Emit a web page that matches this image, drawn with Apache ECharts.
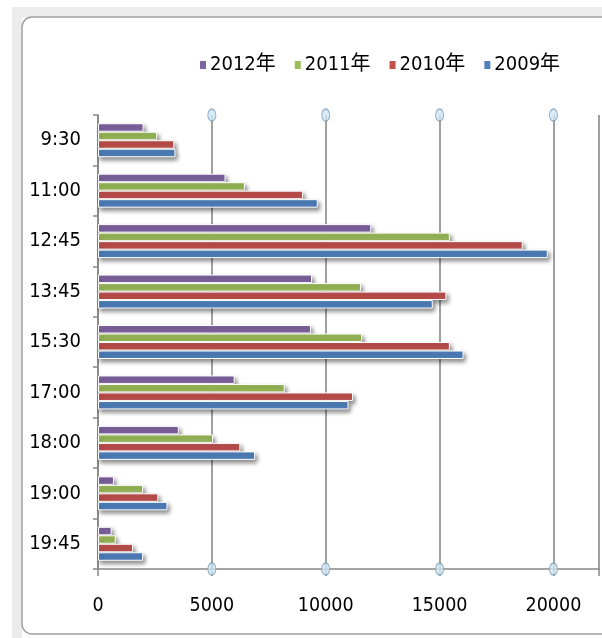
<!DOCTYPE html>
<html>
<head>
<meta charset="utf-8">
<script src="https://cdn.jsdelivr.net/npm/echarts@6/dist/echarts.min.js"></script>
<style>
html,body{margin:0;padding:0;background:#fff;}
#c{width:602px;height:638px;}
</style>
</head>
<body>
<div id="c"></div>
<script>
var categories = ['9:30','11:00','12:45','13:45','15:30','17:00','18:00','19:00','19:45'];
var seriesNames = ['2012年','2011年','2010年','2009年'];
var v2012 = [2000, 5600, 12000, 9400, 9350, 6000, 3550, 700, 600];
var v2011 = [2600, 6450, 15450, 11550, 11600, 8200, 5050, 1980, 780];
var v2010 = [3350, 9000, 18650, 15300, 15450, 11200, 6250, 2650, 1540];
var v2009 = [3400, 9650, 19750, 14700, 16050, 11000, 6900, 3050, 1980];
var gridTicks = [5000, 10000, 15000, 20000];
var xTickLabels = ['0','5000','10000','15000','20000'];

var colors = ['#8064A2','#9BBB59','#C0504D','#4F81BD'];
var values = [v2012, v2011, v2010, v2009];
var FONT = "'Liberation Sans Narrow','DejaVu Sans Condensed','Noto Sans CJK SC',sans-serif";

var chart = echarts.init(document.getElementById('c'));

var barSeries = seriesNames.map(function (name, i) {
  return {
    name: name,
    type: 'bar',
    data: values[i],
    barWidth: 8.5,
    barGap: '0%',
    z: 3,
    itemStyle: {
      color: colors[i],
      borderColor: '#ffffff',
      borderWidth: 1,
      shadowBlur: 4,
      shadowColor: 'rgba(0,0,0,0.45)',
      shadowOffsetX: 2,
      shadowOffsetY: 3
    }
  };
});

var circleData = [];
gridTicks.forEach(function (t) { circleData.push([t, 1]); circleData.push([t, 0]); });

barSeries.push({
  type: 'scatter',
  xAxisIndex: 0,
  yAxisIndex: 1,
  data: circleData,
  symbol: 'circle',
  symbolSize: [8, 12],
  z: 4,
  silent: true,
  itemStyle: { color: '#cfe6f3', borderColor: '#7d9fb8', borderWidth: 1.2 }
});

chart.setOption({
  animation: false,
  backgroundColor: '#ffffff',
  textStyle: { fontFamily: FONT },
  graphic: [
    { type: 'rect', shape: { x: 12, y: 7, width: 620, height: 10 }, style: { fill: '#ececec' }, z: -10 },
    { type: 'rect', shape: { x: 12, y: 7, width: 10, height: 640 }, style: { fill: '#ececec' }, z: -10 },
    { type: 'rect', shape: { x: 22, y: 17, width: 620, height: 617, r: 10 }, style: { fill: '#ffffff', stroke: '#a0a0a0', lineWidth: 1.5 }, z: -9 }
  ],
  legend: {
    data: seriesNames,
    left: 193,
    top: 50,
    width: 400,
    itemWidth: 8,
    itemHeight: 10,
    itemGap: 17,
    icon: 'rect',
    textStyle: { fontFamily: FONT, fontSize: 20, color: '#000', padding: [0, 0, 0, -2] }
  },
  grid: { left: 98, top: 115, width: 513.7, height: 454 },
  xAxis: {
    type: 'value',
    min: 0,
    max: 22000,
    interval: 5000,
    axisLine: { show: true, lineStyle: { color: '#868686', width: 1.5 } },
    axisTick: { show: true, length: 7, lineStyle: { color: '#868686', width: 1.5 } },
    splitLine: { show: true, lineStyle: { color: '#808080', width: 1.5 } },
    axisLabel: {
      fontFamily: FONT, fontSize: 19.5, color: '#000', margin: 27,
      formatter: function (v) { var k = xTickLabels.indexOf(String(v)); return k >= 0 ? xTickLabels[k] : ''; }
    }
  },
  yAxis: [{
    type: 'category',
    data: categories,
    inverse: true,
    axisLine: { show: true, lineStyle: { color: '#868686', width: 1.5 } },
    axisTick: { show: true, length: 5, lineStyle: { color: '#868686', width: 1.5 } },
    axisLabel: { fontFamily: FONT, fontSize: 20, color: '#000', margin: 17 }
  }, {
    type: 'value',
    min: 0,
    max: 1,
    show: false
  }],
  series: barSeries
});
</script>
</body>
</html>
